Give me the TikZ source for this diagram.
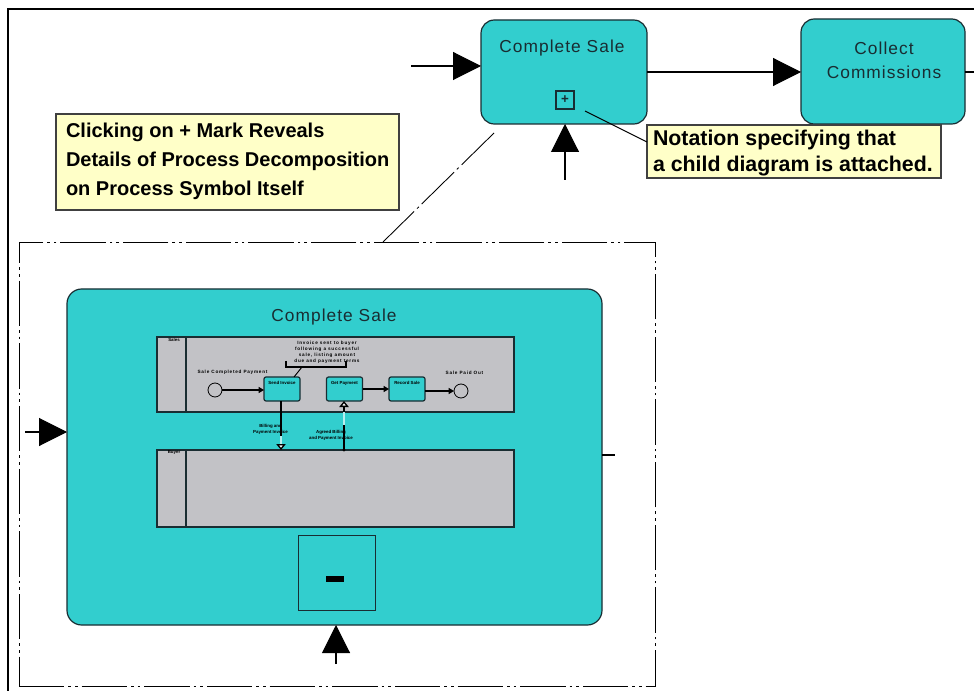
\documentclass[tikz,border=0pt]{standalone}
\usepackage{fontspec}
\setmainfont{Liberation Sans}
\usetikzlibrary{arrows.meta,calc}
\definecolor{teal1}{RGB}{50,206,206}
\definecolor{note1}{RGB}{255,255,200}
\definecolor{lane1}{RGB}{194,194,198}
\definecolor{ink1}{RGB}{25,45,50}
\tikzset{
  x=0.75pt,y=-0.75pt,
  box/.style={draw=ink1,fill=teal1,line width=0.9pt,rounded corners=10pt,inner sep=0pt,outer sep=0pt,align=center,text=ink1},
  notebox/.style={draw=black!75,fill=note1,line width=0.9pt,inner sep=0pt,outer sep=0pt},
  notetext/.style={inner sep=0pt,outer sep=0pt,align=left,text=black,anchor=west},
  lanebox/.style={draw=ink1,fill=lane1,line width=0.8pt,inner sep=0pt,outer sep=0pt},
  task/.style={draw=ink1,fill=teal1,line width=0.9pt,rounded corners=1.5pt,inner sep=0pt,outer sep=0pt,minimum width=27pt,minimum height=18pt},
  evt/.style={circle,draw=black,fill=lane1,line width=0.6pt,inner sep=0pt,outer sep=0pt,minimum size=10.5pt},
  bigflow/.style={line width=0.8pt,draw=black,-{Triangle[length=21pt,width=21pt,fill=black]}},
  minflow/.style={line width=0.9pt,draw=black,-{Triangle[length=4pt,width=4.5pt,fill=black]}},
  msgflow/.style={line width=1pt,draw=black,-{Triangle[length=4.5pt,width=7pt,open,fill=white]}},
  tiny1/.style={font=\fontsize{3.5pt}{4.6pt}\bfseries\selectfont\addfontfeature{LetterSpace=16},inner sep=0pt,align=center,text=black},
  tiny2/.style={font=\fontsize{3.3pt}{4.6pt}\bfseries\selectfont,inner sep=0pt,align=center,text=black},
  chain1/.style={line width=0.65pt,draw=black,dash pattern=on 34pt off 3pt on 2pt off 3pt on 2pt off 3pt},
  title1/.style={font=\fontsize{13pt}{18pt}\selectfont\addfontfeature{LetterSpace=6},text=ink1,inner sep=0pt,align=center},
}
\begin{document}
\begin{tikzpicture}
\useasboundingbox[fill=white] (0,0) rectangle (974,691);
\begin{scope}
\clip (0,0) rectangle (974,691);
\node (edge) [draw=black,line width=1.6pt,inner sep=0pt,outer sep=0pt,minimum width=1100*0.75pt,minimum height=800*0.75pt,anchor=north west] at (8,9) {};
\end{scope}

% expanded frame and big process
\node (frame) [chain1,inner sep=0pt,outer sep=0pt,minimum width=636*0.75pt,minimum height=444*0.75pt] at (337,464) {};
\node (bigp) [box,rounded corners=11pt,minimum width=535*0.75pt,minimum height=336*0.75pt] at (334.5,457) {};
\node (bigt) [title1] at (334,317.5) {Complete Sale};

% top processes
\node (cs) [box,minimum width=166*0.75pt,minimum height=104*0.75pt] at (564,72) {};
\node (cst) [title1] at (562,48.5) {Complete Sale};
\node (cc) [box,minimum width=164*0.75pt,minimum height=105*0.75pt] at (883,71.5) {};
\node (cct) [title1] at (884,60.5) {Collect\\Commissions};
\node (plus) [draw=ink1,line width=0.8pt,inner sep=0pt,outer sep=0pt,minimum size=13.5pt,font=\fontsize{10pt}{10pt}\bfseries\selectfont,text=ink1] at (565,100) {+};

% notes
\node (note2) [notebox,minimum width=294*0.75pt,minimum height=53*0.75pt] at (794,151.5) {};
\node (note2t) [notetext,font=\fontsize{16pt}{19pt}\bfseries\selectfont] at (653,153) {Notation specifying that\\a child diagram is attached.};
\node (note1) [notebox,minimum width=343*0.75pt,minimum height=96*0.75pt] at (227.5,162) {};
\node (note1t) [notetext,font=\fontsize{15pt}{21.7pt}\bfseries\selectfont] at (66,161.5) {Clicking on + Mark Reveals\\Details of Process Decomposition\\on Process Symbol Itself};

% top connectors
\coordinate (in1) at (411,66);
\coordinate (up1) at (565,180);
\coordinate (out2) at (974,72);
\coordinate (lead1) at (585,111);
\draw[bigflow] (in1) -- (in1 -| cs.west);
\draw[bigflow] (cs.east |- 0,72) -- (cc.west |- 0,72);
\draw[line width=0.8pt] (cc.east |- out2) -- (out2);
\draw[bigflow] (up1) -- (up1 |- cs.south);
\draw[line width=0.7pt] (lead1) -- (note2.west |- 0,142);
\coordinate (chainA) at (494,133);
\draw[line width=0.65pt,dash pattern=on 34pt off 3pt on 2pt off 3pt] (chainA) -- (frame.north -| 383,0);

% lanes
\node (lane1) [lanebox,minimum width=357*0.75pt,minimum height=75*0.75pt] at (335.5,374.5) {};
\node (lane2) [lanebox,minimum width=357*0.75pt,minimum height=77*0.75pt] at (335.5,488.5) {};
\coordinate (d1) at (186,337);
\coordinate (d2) at (186,450);
\draw[line width=0.9pt,draw=ink1] (d1) -- (d1 |- lane1.south);
\draw[line width=0.9pt,draw=ink1] (d2) -- (d2 |- lane2.south);
\node (lab1) [tiny2] at (174,339.5) {Sales};
\node (lab2) [tiny2] at (174,452.5) {Buyer};

% inner tasks
\node (ev1) [evt] at (215,390) {};
\node (t1) [task] at (282,389) {};
\node (t2) [task] at (344.5,389) {};
\node (t3) [task] at (407,389) {};
\node (ev2) [evt] at (461,391) {};
\node (t1l) [tiny2] at (282,383) {Send Invoice};
\node (t2l) [tiny2] at (344.5,383) {Get Payment};
\node (t3l) [tiny2] at (407,383) {Record Sale};
\node (ev1l) [tiny1] at (232.5,372) {Sale Completed Payment};
\node (ev2l) [tiny1] at (464.5,373) {Sale Paid Out};
\node (ann) [tiny1] at (327,352) {Invoice sent to buyer\\following a successful\\sale, listing amount\\due and payment terms};
\node (msg1) [tiny2] at (270.5,429) {Billing and\\Payment Invoice};
\node (msg2) [tiny2] at (331,435.5) {Agreed Billing\\and Payment Invoice};

\draw[minflow] (ev1.east) -- (t1.west |- ev1);
\draw[minflow] (t2.east) -- (t3.west);
\draw[minflow] (t3.east |- ev2) -- (ev2.west);
\draw[msgflow] (t1.south -| 281,0) -- (lane2.north -| 281,0);
\draw[msgflow] (lane2.north -| 344,0) -- (t2.south -| 344,0);
\coordinate (lightA) at (281,436);
\coordinate (lightB) at (281,444);
\coordinate (lightC) at (344,412);
\coordinate (lightD) at (344,425);
\draw[line width=1pt,draw=teal1!35] (lightA) -- (lightB);
\draw[line width=1pt,draw=teal1!35] (lightC) -- (lightD);
\fill[black] (344,450) circle[radius=1.3pt];
\coordinate (brA) at (286,361);
\coordinate (brB) at (346,361);
\coordinate (brC) at (302,367);
\draw[line width=0.8pt] (brA) -- (brA |- brC) -- (brB |- brC) -- (brB);
\draw[line width=0.7pt] (brC) -- ($(t1.north)+(12,0)$);

% minus marker
\node (minus) [draw=ink1,line width=0.75pt,inner sep=0pt,outer sep=0pt,minimum width=77*0.75pt,minimum height=75*0.75pt] at (336.5,572.5) {};
\node (bar) [fill=black,inner sep=0pt,outer sep=0pt,minimum width=18*0.75pt,minimum height=6*0.75pt] at (335,579) {};

% big process connectors
\coordinate (in2) at (25,432);
\coordinate (out3) at (615,455);
\coordinate (up2) at (336,664);
\draw[bigflow] (in2) -- (in2 -| bigp.west);
\draw[line width=0.8pt] (bigp.east |- out3) -- (out3);
\draw[bigflow] (up2) -- (up2 |- bigp.south);
\end{tikzpicture}
\end{document}
